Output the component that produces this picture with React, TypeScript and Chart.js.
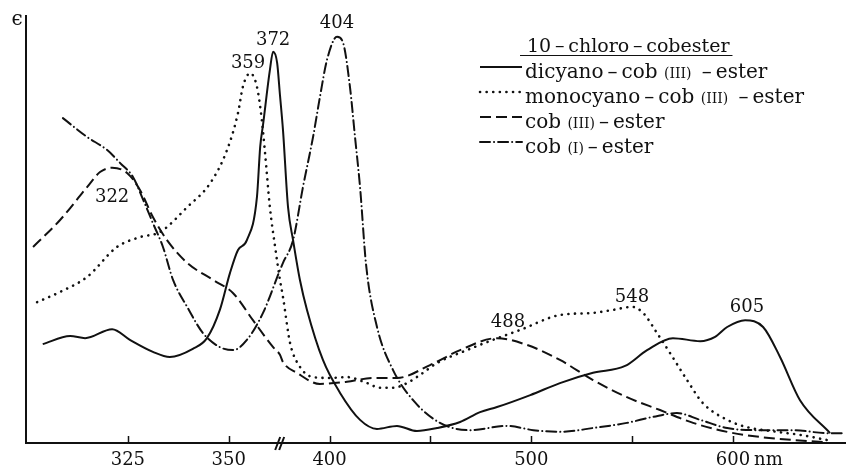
import React, { useEffect, useRef } from 'react';
import { Chart, registerables, LinearScale } from 'chart.js';

Chart.register(...registerables);

// ---------- axis geometry (wavelength axis with a break) ----------
const X_MIN = 300;
const X_MAX = 656;
const BREAK_LEFT = 363; // left segment ends here (2 units / nm)
const BREAK_RIGHT = 376; // right segment starts here (1 unit / nm)

function toAxisUnits(nm: number): number {
  if (nm <= BREAK_LEFT) return 2 * (nm - X_MIN);
  return 2 * (BREAK_LEFT - X_MIN) + (nm - BREAK_RIGHT);
}
function fromAxisUnits(u: number): number {
  const uBreak = 2 * (BREAK_LEFT - X_MIN);
  if (u <= uBreak) return X_MIN + u / 2;
  return BREAK_RIGHT + (u - uBreak);
}

class BrokenLinearScale extends LinearScale {
  static id = 'brokenLinear';
  static defaults = {};
  getPixelForValue(value: number) {
    const u0 = toAxisUnits(this.min);
    const u1 = toAxisUnits(this.max);
    return this.getPixelForDecimal((toAxisUnits(value) - u0) / (u1 - u0));
  }
  getValueForPixel(pixel: number) {
    const u0 = toAxisUnits(this.min);
    const u1 = toAxisUnits(this.max);
    return fromAxisUnits(u0 + this.getDecimalForPixel(pixel) * (u1 - u0));
  }
}
Chart.register(BrokenLinearScale as any);

// ---------- data ----------
const tickNm = [325, 350, 400, 450, 500, 550, 600];
const tickLabels = ['325', '350', '400', '', '500', '', '600'];

const dicyanoNm = [303.9, 310.7, 314.4, 321.1, 325.5, 331.2, 335.4, 341.1, 344.6, 347.8, 350.3, 352.3, 354.5, 357.0, 357.8, 358.5, 360.2, 361.0, 362.0, 362.7, 376.9, 379.4, 381.9, 385.3, 388.8, 396.7, 405.2, 415.1, 423.5, 433.4, 443.3, 453.3, 464.7, 474.6, 483.0, 499.5, 514.2, 530.6, 546.5, 557.4, 570.2, 583.7, 591.1, 597.1, 606.0, 614.9, 623.3, 633.2, 648.1];
const dicyanoEps = [23.1, 25.0, 24.5, 26.6, 24.1, 21.3, 20.1, 22.0, 24.5, 31.1, 39.7, 45.1, 47.4, 57.5, 69.2, 74.3, 87.1, 91.4, 88.8, 81.3, 73.1, 55.1, 47.4, 38.1, 31.1, 19.4, 11.7, 5.4, 3.3, 4.0, 2.8, 3.5, 4.9, 7.2, 8.4, 11.2, 14.0, 16.4, 18.0, 21.7, 24.5, 23.8, 24.8, 27.1, 28.7, 27.1, 20.1, 10.0, 2.3];

const monocyanoNm = [302.5, 308.2, 314.9, 322.3, 328.0, 333.0, 339.7, 345.4, 349.6, 352.3, 353.5, 355.3, 357.0, 358.2, 359.0, 360.2, 361.5, 362.7, 376.9, 380.4, 385.3, 391.8, 400.2, 408.6, 418.6, 425.0, 431.4, 438.4, 444.8, 453.3, 468.1, 481.0, 494.4, 514.2, 530.6, 540.5, 549.9, 555.4, 562.3, 568.8, 577.2, 585.1, 597.1, 606.9, 621.8, 633.2, 646.6];
const monocyanoEps = [32.9, 35.3, 38.8, 45.8, 48.1, 49.3, 55.1, 60.7, 68.5, 77.1, 83.2, 86.4, 83.2, 75.5, 67.8, 55.1, 45.8, 38.1, 34.1, 23.4, 17.8, 15.4, 15.2, 15.4, 14.0, 12.9, 12.9, 14.0, 15.9, 18.7, 21.7, 24.1, 26.4, 29.9, 30.4, 31.1, 31.8, 30.4, 25.7, 21.0, 14.7, 9.3, 5.4, 3.7, 2.6, 1.9, 0.7];

const cobIIINm = [301.5, 308.2, 314.9, 318.1, 321.1, 324.8, 328.0, 331.2, 334.7, 339.7, 346.1, 351.1, 356.0, 361.0, 362.7, 376.9, 383.8, 395.2, 408.6, 421.5, 433.4, 449.8, 464.7, 483.0, 497.9, 514.2, 530.6, 547.4, 563.8, 580.2, 597.1, 613.4, 629.7, 646.6];
const cobIIIEps = [45.8, 52.1, 59.8, 63.3, 64.3, 63.1, 59.1, 52.8, 47.4, 42.1, 38.1, 35.0, 28.7, 22.4, 20.6, 18.9, 16.4, 13.8, 14.3, 15.2, 15.2, 18.2, 21.7, 24.5, 22.9, 19.4, 14.7, 10.7, 7.7, 4.7, 2.6, 1.4, 0.7, 0.2];

const cobINm = [308.9, 314.9, 319.8, 323.1, 326.3, 328.8, 331.2, 333.7, 336.2, 339.7, 343.6, 347.8, 351.1, 354.5, 358.5, 362.7, 376.9, 381.9, 386.8, 391.8, 395.2, 398.7, 403.7, 406.7, 410.1, 412.6, 415.1, 418.1, 423.5, 431.4, 441.4, 454.7, 469.6, 488.0, 501.0, 514.2, 530.6, 547.4, 560.3, 572.2, 583.7, 597.1, 613.4, 629.7, 646.6, 654.5];
const cobIEps = [75.9, 71.5, 68.5, 65.4, 62.1, 56.8, 51.4, 45.8, 38.1, 31.8, 25.7, 22.4, 21.7, 24.1, 30.4, 40.4, 42.1, 47.4, 59.8, 71.5, 80.8, 89.5, 94.9, 93.5, 83.2, 71.5, 59.8, 41.6, 27.1, 17.1, 10.0, 4.7, 3.0, 4.0, 3.0, 2.6, 3.5, 4.7, 6.1, 7.0, 5.4, 3.5, 3.0, 3.0, 2.3, 2.3];

// peak annotations (label text, anchor wavelength on axis, anchor epsilon)
const peakLabels = ['372', '359', '404', '322', '488', '548', '605'];
const peakLabelNm = [361.0, 354.8, 403.7, 321.1, 488.4, 549.9, 606.9];
const peakLabelEps = [93.0, 87.6, 97.0, 56.3, 27.1, 32.9, 30.6];

const TS = '\u2009'; // thin space
const legendTitle = `10${TS}–${TS}chloro${TS}–${TS}cobester`;
const seriesNames = [
  [`dicyano${TS}–${TS}cob `, '(III)', ` ${TS}–${TS}ester`],
  [`monocyano${TS}–${TS}cob `, '(III)', ` ${TS}–${TS}ester`],
  ['cob ', '(III)', `${TS}–${TS}ester`],
  ['cob ', '(I)', `${TS}–${TS}ester`],
];

// ---------- styles ----------
const INK = '#111111';
const SERIF = '"DejaVu Serif", "Liberation Serif", serif';
const DASHES: number[][] = [[], [0.1, 6.5], [11, 5], [10, 4, 0.1, 4]];
const WIDTHS = [2, 2.6, 2, 2];

const decorPlugin = {
  id: 'paperDecor',
  afterDraw(chart: any) {
    const ctx: CanvasRenderingContext2D = chart.ctx;
    const xs = chart.scales.x;
    const ys = chart.scales.y;
    const a = chart.chartArea;
    ctx.save();
    ctx.strokeStyle = INK;
    ctx.fillStyle = INK;
    ctx.setLineDash([]);
    ctx.lineCap = 'butt';

    // axes
    ctx.lineWidth = 2;
    ctx.beginPath();
    ctx.moveTo(a.left - 1, a.top);
    ctx.lineTo(a.left - 1, a.bottom + 1);
    ctx.moveTo(a.left - 2, a.bottom);
    ctx.lineTo(a.right, a.bottom);
    ctx.stroke();

    // ticks (inward)
    ctx.lineWidth = 1.5;
    ctx.beginPath();
    tickNm.forEach((nm) => {
      const px = Math.round(xs.getPixelForValue(nm)) + 0.5;
      ctx.moveTo(px, a.bottom);
      ctx.lineTo(px, a.bottom - 7);
    });
    ctx.stroke();

    // tick labels
    ctx.font = `18px ${SERIF}`;
    ctx.textBaseline = 'alphabetic';
    ctx.textAlign = 'center';
    tickNm.forEach((nm, i) => {
      if (!tickLabels[i]) return;
      const px = xs.getPixelForValue(nm);
      ctx.fillText(tickLabels[i], px, a.bottom + 22);
      if (nm === 600) {
        ctx.textAlign = 'left';
        ctx.fillText('nm', px + 21, a.bottom + 22);
        ctx.textAlign = 'center';
      }
    });

    // axis break mark
    const bx = xs.getPixelForValue(BREAK_LEFT);
    ctx.lineWidth = 2;
    ctx.beginPath();
    ctx.moveTo(bx - 6, a.bottom + 7);
    ctx.lineTo(bx - 1, a.bottom - 6);
    ctx.moveTo(bx - 2, a.bottom + 7);
    ctx.lineTo(bx + 3, a.bottom - 6);
    ctx.stroke();

    // epsilon
    ctx.font = `20px ${SERIF}`;
    ctx.textAlign = 'center';
    ctx.fillText('ϵ', a.left - 10, a.top + 10);

    // peak labels
    ctx.font = `18px ${SERIF}`;
    ctx.textAlign = 'center';
    peakLabels.forEach((t, i) => {
      ctx.fillText(t, xs.getPixelForValue(peakLabelNm[i]), ys.getPixelForValue(peakLabelEps[i]));
    });

    // legend
    const lx = 480;
    const tx = 525;
    ctx.textAlign = 'left';
    ctx.font = `19px ${SERIF}`;
    const tw = ctx.measureText(legendTitle).width;
    ctx.fillText(legendTitle, 527, 52);
    ctx.lineWidth = 1.2;
    ctx.beginPath();
    ctx.moveTo(520, 55.5);
    ctx.lineTo(527 + tw + 3, 55.5);
    ctx.stroke();

    seriesNames.forEach((parts, i) => {
      const by = 78 + i * 25;
      // sample line
      ctx.save();
      ctx.lineWidth = WIDTHS[i];
      ctx.setLineDash(DASHES[i]);
      ctx.lineCap = i === 1 || i === 3 ? 'round' : 'butt';
      ctx.beginPath();
      ctx.moveTo(lx, by - 11);
      ctx.lineTo(lx + 42, by - 11);
      ctx.stroke();
      ctx.restore();
      let cx = tx;
      parts.forEach((p, j) => {
        ctx.font = j === 1 ? `14px ${SERIF}` : `20px ${SERIF}`;
        ctx.fillText(p, cx, by);
        cx += ctx.measureText(p).width;
      });
    });
    ctx.restore();
  },
};

function makeData(nm: number[], eps: number[]) {
  return nm.map((v, i) => ({ x: v, y: eps[i] }));
}

export default function App() {
  const ref = useRef<HTMLCanvasElement>(null);
  useEffect(() => {
    if (!ref.current) return;
    const series = [
      { label: 'dicyano – cob (III) – ester', d: makeData(dicyanoNm, dicyanoEps) },
      { label: 'monocyano – cob (III) – ester', d: makeData(monocyanoNm, monocyanoEps) },
      { label: 'cob (III) – ester', d: makeData(cobIIINm, cobIIIEps) },
      { label: 'cob (I) – ester', d: makeData(cobINm, cobIEps) },
    ];
    const chart = new Chart(ref.current, {
      type: 'line',
      data: {
        datasets: series.map((s, i) => ({
          label: s.label,
          data: s.d,
          borderColor: INK,
          borderWidth: WIDTHS[i],
          borderDash: DASHES[i],
          borderCapStyle: i === 1 || i === 3 ? 'round' : 'butt',
          pointRadius: 0,
          fill: false,
          cubicInterpolationMode: 'monotone',
        })) as any,
      },
      options: {
        responsive: false,
        animation: false,
        layout: { padding: { left: 27, top: 15, right: 0, bottom: 24 } },
        scales: {
          x: { type: 'brokenLinear' as any, min: X_MIN, max: X_MAX, display: false },
          y: { type: 'linear', min: 0, max: 100, display: false },
        },
        plugins: { legend: { display: false }, tooltip: { enabled: false } },
        events: [],
      } as any,
      plugins: [decorPlugin],
    });
    return () => chart.destroy();
  }, []);
  return (
    <div style={{ position: 'fixed', left: 0, top: 0, width: 846, height: 467, background: '#fff' }}>
      <canvas ref={ref} width={846} height={467} style={{ display: 'block' }} />
    </div>
  );
}
